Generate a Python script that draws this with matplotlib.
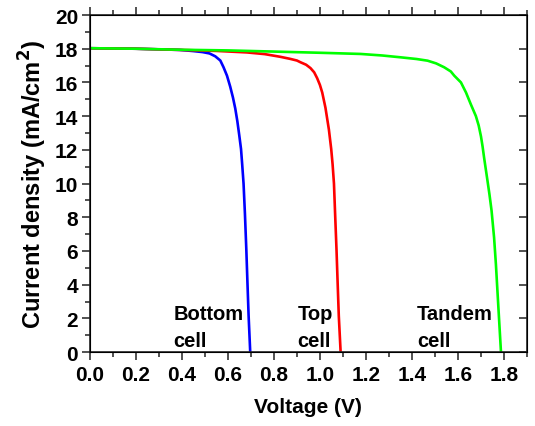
import matplotlib.pyplot as plt
from matplotlib.ticker import MultipleLocator

plt.rcParams['font.family'] = ['Liberation Sans', 'DejaVu Sans']
plt.rcParams['font.weight'] = 'bold'

# bottom cell (blue)
v_bottom = [0.0, 0.2, 0.39, 0.45, 0.49, 0.52, 0.545, 0.567, 0.581, 0.596,
            0.61, 0.622, 0.632, 0.641, 0.649, 0.657, 0.662, 0.668, 0.674,
            0.68, 0.685, 0.69, 0.697]
j_bottom = [18.03, 18.0, 17.93, 17.86, 17.8, 17.72, 17.55, 17.3, 16.9, 16.4,
            15.75, 15.1, 14.45, 13.7, 12.9, 12.05, 11.15, 10.0, 8.2,
            6.1, 4.1, 2.15, 0.0]

# top cell (red)
v_top = [0.0, 0.2, 0.39, 0.55, 0.683, 0.76, 0.828, 0.87, 0.9, 0.915, 0.94,
         0.959, 0.975, 0.988, 1.0, 1.01, 1.024, 1.039, 1.049, 1.055, 1.061,
         1.066, 1.072, 1.077, 1.082, 1.09]
j_top = [18.03, 18.0, 17.93, 17.87, 17.78, 17.68, 17.52, 17.4, 17.3, 17.2,
         17.05, 16.85, 16.6, 16.25, 15.85, 15.4, 14.5, 13.2, 12.05, 11.15,
         10.0, 8.2, 6.1, 4.1, 2.15, 0.0]

# tandem cell (green)
v_tandem = [0.0, 0.2, 0.39, 0.6, 0.83, 1.0, 1.177, 1.27, 1.351, 1.42, 1.468,
            1.505, 1.54, 1.569, 1.584, 1.613, 1.635, 1.656, 1.678, 1.69,
            1.70, 1.707, 1.714, 1.728, 1.737, 1.746, 1.757, 1.765, 1.773,
            1.787]
j_tandem = [18.03, 18.0, 17.94, 17.9, 17.82, 17.76, 17.69, 17.6, 17.49, 17.39,
            17.29, 17.13, 16.9, 16.65, 16.4, 16.0, 15.4, 14.7, 14.0, 13.45,
            12.8, 12.2, 11.5, 10.2, 9.35, 8.4, 6.8, 5.2, 3.3, 0.0]

fig = plt.figure(figsize=(5.35, 4.27), dpi=100)
ax = fig.add_axes([0.168, 0.173, 0.817, 0.7895])

ax.plot(v_bottom, j_bottom, color='#0000ff', lw=1.9)
ax.plot(v_top, j_top, color='#ff0000', lw=1.9)
ax.plot(v_tandem, j_tandem, color='#00ff00', lw=1.9)

ax.set_xlim(0, 1.9)
ax.set_ylim(0, 20)
ax.xaxis.set_major_locator(MultipleLocator(0.2))
ax.xaxis.set_minor_locator(MultipleLocator(0.1))
ax.yaxis.set_major_locator(MultipleLocator(2))
ax.yaxis.set_minor_locator(MultipleLocator(1))
ax.xaxis.set_major_formatter(plt.FuncFormatter(lambda v, p: f'{v:.1f}'))

for s in ax.spines.values():
    s.set_linewidth(1.2)
    s.set_color('#222222')

ax.tick_params(which='both', direction='out', top=True, color='#222222',
               width=1.1, labelsize=15)
ax.tick_params(which='major', length=5.5)
ax.tick_params(which='minor', length=3.5)
ax.tick_params(axis='x', pad=4)
ax.tick_params(axis='y', pad=3)

# right side: major ticks only, pointing in
ax2 = ax.twinx()
ax2.set_ylim(0, 20)
ax2.yaxis.set_major_locator(MultipleLocator(2))
ax2.tick_params(axis='y', direction='in', length=5.5, width=1.1,
                color='#222222', labelright=False)

ax.set_xlabel('Voltage (V)', fontsize=15, fontweight='bold', labelpad=9)
ax.set_ylabel('Current density (mA/cm$^\\mathbf{2}$)', fontsize=17,
              fontweight='bold', labelpad=4)

ax.text(0.362, 2.85, 'Bottom\ncell', fontsize=14.5, fontweight='bold',
        ha='left', va='top', linespacing=1.55)
ax.text(0.902, 2.85, 'Top\ncell', fontsize=14.5, fontweight='bold',
        ha='left', va='top', linespacing=1.55)
ax.text(1.421, 2.85, 'Tandem\ncell', fontsize=14.5, fontweight='bold',
        ha='left', va='top', linespacing=1.55)

fig.savefig('out.png', dpi=100)
